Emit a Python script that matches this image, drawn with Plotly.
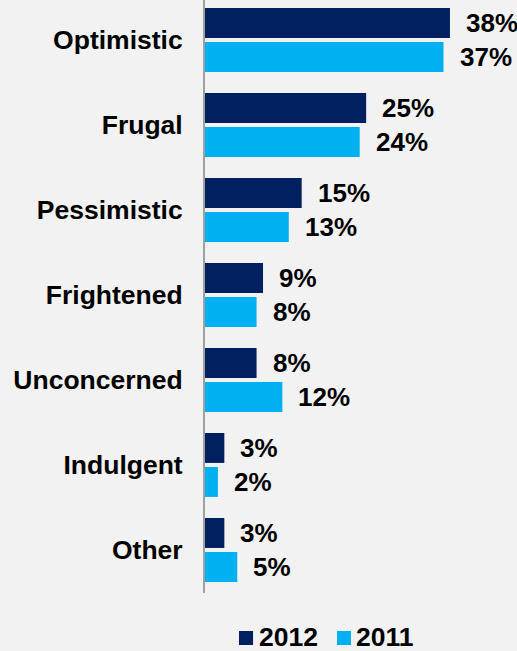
import plotly.graph_objects as go

categories = ["Optimistic", "Frugal", "Pessimistic", "Frightened", "Unconcerned", "Indulgent", "Other"]
values_2012 = [38, 25, 15, 9, 8, 3, 3]
values_2011 = [37, 24, 13, 8, 12, 2, 5]
series_names = ["2012", "2011"]

NAVY = "#002060"
SKY = "#00B0F0"
FONT = "Arial, Liberation Sans, sans-serif"
FS = 26

fig = go.Figure()
fig.add_trace(go.Bar(y=categories, x=values_2012, orientation="h", name=series_names[0],
                     marker=dict(color=NAVY, line=dict(width=0)), showlegend=False))
fig.add_trace(go.Bar(y=categories, x=values_2011, orientation="h", name=series_names[1],
                     marker=dict(color=SKY, line=dict(width=0)), showlegend=False))

# value labels to the right of each bar
annotations = []
for vals, dy in ((values_2012, 17), (values_2011, -17)):
    for cat, v in zip(categories, vals):
        annotations.append(dict(x=v, y=cat, text=f"<b>{v}%</b>", showarrow=False,
                                xanchor="left", yanchor="middle", xshift=14, yshift=dy,
                                font=dict(size=FS, color="black", family=FONT)))

# legend row below the plot: square swatch + bold year
shapes = []
for (x0, x1, xt), name, col in zip(((0.109, 0.154, 0.166), (0.423, 0.468, 0.479)),
                                   series_names, (NAVY, SKY)):
    shapes.append(dict(type="rect", xref="paper", yref="paper", x0=x0, x1=x1,
                       y0=-0.0877, y1=-0.0641, fillcolor=col, line=dict(width=0)))
    annotations.append(dict(x=xt, y=-0.0742, xref="paper", yref="paper", text=f"<b>{name}</b>",
                            showarrow=False, xanchor="left", yanchor="middle",
                            font=dict(size=26.5, color="black", family=FONT)))

fig.update_layout(
    width=517, height=651,
    margin=dict(l=205, r=0, t=0, b=58, autoexpand=False),
    paper_bgcolor="#F2F2F2", plot_bgcolor="#F2F2F2",
    barmode="group", bargap=0.2, bargroupgap=0.12,
    font=dict(family=FONT, size=FS, color="black"),
    annotations=annotations,
    shapes=shapes,
    showlegend=False,
    xaxis=dict(range=[0, 48.4], visible=False, fixedrange=True),
    yaxis=dict(categoryorder="array", categoryarray=categories,
               range=[6.506, -0.47],
               showline=True, linecolor="#A0A0A0", linewidth=2,
               showgrid=False, zeroline=False,
               ticks="outside", ticklen=15, tickcolor="rgba(0,0,0,0)",
               tickfont=dict(size=26.5, family=FONT, color="black"),
               tickprefix="<b>", ticksuffix="</b>"),
)

fig.write_html("out.html")
